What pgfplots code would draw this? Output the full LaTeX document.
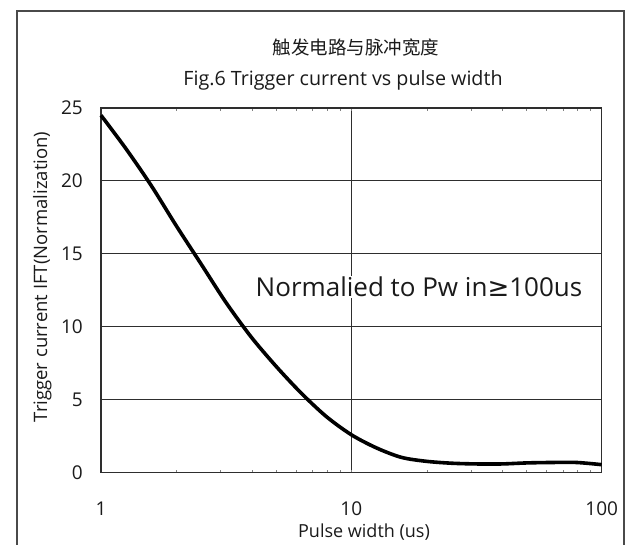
\documentclass[border=0pt]{standalone}
\usepackage{fontspec}
\usepackage{pgfplots}
\pgfplotsset{compat=1.18}
\setmainfont{Open Sans}
\newfontfamily\cjk{Noto Sans CJK SC}
\newfontfamily\symfont{DejaVu Sans}
\definecolor{ink}{HTML}{1A1A1A}
\definecolor{gridc}{HTML}{2E2E2E}
\definecolor{framec}{HTML}{4A4A4A}

\begin{document}
\begin{tikzpicture}[x=1pt,y=1pt]
\useasboundingbox (0,0) rectangle (626,545);
% outer frame (open at the bottom)
\draw[framec, line width=1.6pt] (17,-2) -- (17,534) -- (624,534) -- (624,-2);

\begin{axis}[
  at={(101pt,72.3pt)}, anchor=south west,
  scale only axis, width=500.7pt, height=364.7pt,
  xmode=log, xmin=1, xmax=100, ymin=0, ymax=25,
  xtick={1,10,100}, xticklabels={1,10,100},
  ytick={0,5,10,15,20,25},
  major tick length=0pt,
  axis line style={gridc, line width=1.3pt},
  grid=major,
  major grid style={gridc, line width=1.1pt},
  /pgf/number format/assume math mode=true,
  ticklabel style={font=\fontsize{19}{22}\selectfont, text=ink, inner sep=0pt},
  yticklabel style={anchor=east, xshift=-18pt},
  xticklabel style={anchor=center, yshift=-36pt},
  clip=false,
]
% normalised trigger current, sampled every tenth of a decade
\addplot[black, line width=3.6pt, smooth] coordinates {
  (1,24.5) (1.259,22.2) (1.585,19.7) (1.995,16.95) (2.512,14.3)
  (3.162,11.65) (3.981,9.3) (5.012,7.28) (6.310,5.45) (7.943,3.85)
  (10,2.6) (12.59,1.7) (15.85,1.05) (19.95,0.78) (25.12,0.65)
  (31.62,0.6) (39.81,0.6) (50.12,0.67) (63.10,0.7) (79.43,0.7) (100,0.55)
};
\end{axis}

% titles
\node[anchor=base, text=ink, font=\cjk\fontsize{18.5}{20}\selectfont] at (356,490) {触发电路与脉冲宽度};
\node[anchor=base, text=ink, font=\fontsize{19.7}{22}\selectfont] at (343,459) {Fig.6 Trigger current vs pulse width};
% note inside the plot
\node[anchor=base, fill=white, inner sep=1pt, text=ink, font=\fontsize{26}{30}\selectfont] at (419,248) {Normalied to Pw in{\symfont ≥}100us};
% axis labels
\node[anchor=base, text=ink, font=\fontsize{18}{20}\selectfont] at (364,7) {Pulse width (us)};
\node[anchor=base, rotate=90, text=ink, font=\fontsize{18.5}{20}\selectfont] at (47,268) {Trigger current IFT(Normalization)};
\end{tikzpicture}
\end{document}
